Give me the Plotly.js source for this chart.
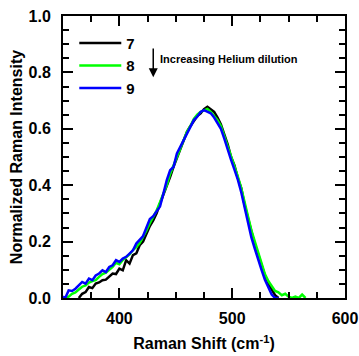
<!DOCTYPE html>
<html>
<head>
<meta charset="utf-8">
<script src="https://cdn.plot.ly/plotly-3.0.1.min.js"></script>
<style>html,body{margin:0;padding:0;background:#fff;}#chart{width:359px;height:356px;}</style>
</head>
<body>
<div id="chart"></div>
<script>
// Raman shift (cm^-1) sample positions and normalized intensities
const shiftBlue = [350,352,355,358,361,364,367,370,373,376,379,382,385,388,391,394,397,400,403,406,409,412,415,418,421,424,427,430,433,436,439,442,445,448,451,454,457,460,463,466,469,472,475,478,481,484,487,490,493,496,499,502,505,508,511,514,517,520,523,526,529,532,535,538,541];
const intensity9 = [0.005,0.0,0.027,0.025,0.033,0.045,0.057,0.051,0.069,0.063,0.08,0.087,0.098,0.092,0.11,0.116,0.134,0.128,0.14,0.146,0.158,0.169,0.193,0.205,0.22,0.25,0.28,0.29,0.31,0.325,0.37,0.418,0.453,0.465,0.513,0.536,0.56,0.584,0.607,0.631,0.643,0.66,0.666,0.66,0.655,0.64,0.62,0.6,0.565,0.525,0.49,0.455,0.42,0.375,0.32,0.27,0.215,0.175,0.135,0.1,0.065,0.035,0.012,0.0,0.0];

const shiftGreen = [352,355,358,361,364,367,370,373,376,379,382,385,388,391,394,397,400,403,406,409,412,415,418,421,424,427,430,433,436,439,442,445,448,451,454,457,460,463,466,469,472,475,478,481,484,487,490,493,496,499,502,505,508,511,514,517,520,523,526,529,532,535,538,541,544,547,550,553,556,559,562,565];
const intensity8 = [0.0,0.005,0.015,0.02,0.03,0.04,0.045,0.055,0.06,0.063,0.075,0.085,0.09,0.1,0.11,0.125,0.12,0.135,0.145,0.155,0.17,0.18,0.195,0.215,0.24,0.265,0.285,0.31,0.34,0.37,0.4,0.44,0.47,0.5,0.535,0.56,0.59,0.61,0.635,0.65,0.66,0.665,0.67,0.66,0.645,0.63,0.61,0.575,0.54,0.5,0.465,0.43,0.39,0.335,0.29,0.24,0.2,0.16,0.12,0.085,0.06,0.04,0.025,0.02,0.01,0.015,0.005,0.0,0.005,0.0,0.012,0.0];

const shiftBlack = [364,367,370,373,376,379,382,385,388,391,394,397,400,403,406,409,412,415,418,421,424,427,430,433,436,439,442,445,448,451,454,457,460,463,466,469,472,475,478,481,484,487,490,493,496,499,502,505,508,511,514,517,520,523,526,529,532,535,538,541];
const intensity7 = [0.0,0.015,0.021,0.039,0.035,0.051,0.055,0.063,0.065,0.075,0.087,0.085,0.104,0.098,0.134,0.122,0.152,0.158,0.187,0.2,0.23,0.255,0.275,0.3,0.335,0.365,0.395,0.43,0.465,0.495,0.53,0.555,0.59,0.61,0.63,0.645,0.655,0.67,0.678,0.67,0.66,0.64,0.615,0.58,0.545,0.5,0.47,0.425,0.39,0.33,0.28,0.235,0.19,0.155,0.115,0.08,0.05,0.03,0.01,0.0];

const seriesNames = ['7','8','9'];
const xTickVals = [400,500,600];
const yTickVals = [0.0,0.2,0.4,0.6,0.8,1.0];

const fam = 'Liberation Sans, Arial, sans-serif';
const boldFont = {family:fam, size:16, color:'#000', weight:'bold'};

const traces = [
  {x:shiftBlack, y:intensity7, name:seriesNames[0], mode:'lines', line:{color:'#000000', width:2.5}},
  {x:shiftGreen, y:intensity8, name:seriesNames[1], mode:'lines', line:{color:'#00ff00', width:2.5}},
  {x:shiftBlue, y:intensity9, name:seriesNames[2], mode:'lines', line:{color:'#0000ff', width:2.5}}
];

const axisCommon = {
  showline:true, linecolor:'#000', linewidth:2, mirror:'allticks',
  ticks:'inside', ticklen:10, tickwidth:2, tickcolor:'#000',
  showgrid:false, zeroline:false, tickfont:boldFont,
};

const layout = {
  width:359, height:356,
  margin:{l:63, r:14, t:16, b:58},
  paper_bgcolor:'#fff', plot_bgcolor:'#fff',
  font:boldFont,
  showlegend:true,
  legend:{x:0.04, y:0.962, xanchor:'left', yanchor:'top', bgcolor:'rgba(0,0,0,0)', itemwidth:42, font:{family:fam, size:15, color:'#000', weight:'bold'}, tracegroupgap:0},
  xaxis:Object.assign({}, axisCommon, {
    range:[350,600], tickvals:xTickVals, ticktext:xTickVals.map(String),
    ticklabelstandoff:5,
    minor:{dtick:25, tick0:350, ticks:'inside', ticklen:6, tickwidth:2, tickcolor:'#000'},
    title:{text:'Raman Shift (cm<sup>-1</sup>)', font:boldFont, standoff:12}
  }),
  yaxis:Object.assign({}, axisCommon, {
    range:[0,1], tickvals:yTickVals, ticktext:yTickVals.map(v=>v.toFixed(1)),
    ticklabelstandoff:7,
    minor:{dtick:0.05, tick0:0, ticks:'inside', ticklen:6, tickwidth:2, tickcolor:'#000'},
    title:{text:'Normalized Raman Intensity', font:boldFont, standoff:2}
  }),
  annotations:[
    {x:430, y:0.783, ax:430, ay:0.89, xref:'x', yref:'y', axref:'x', ayref:'y', text:'', showarrow:true, arrowhead:2, arrowsize:1.2, arrowwidth:1.5, arrowcolor:'#000'},
    {x:434.5, y:0.847, xref:'x', yref:'y', xanchor:'left', yanchor:'middle', text:'Increasing Helium dilution', showarrow:false, font:{family:fam, size:11, weight:'bold', color:'#000'}}
  ]
};

Plotly.newPlot('chart', traces, layout, {displayModeBar:false, staticPlot:true});
</script>
</body>
</html>
